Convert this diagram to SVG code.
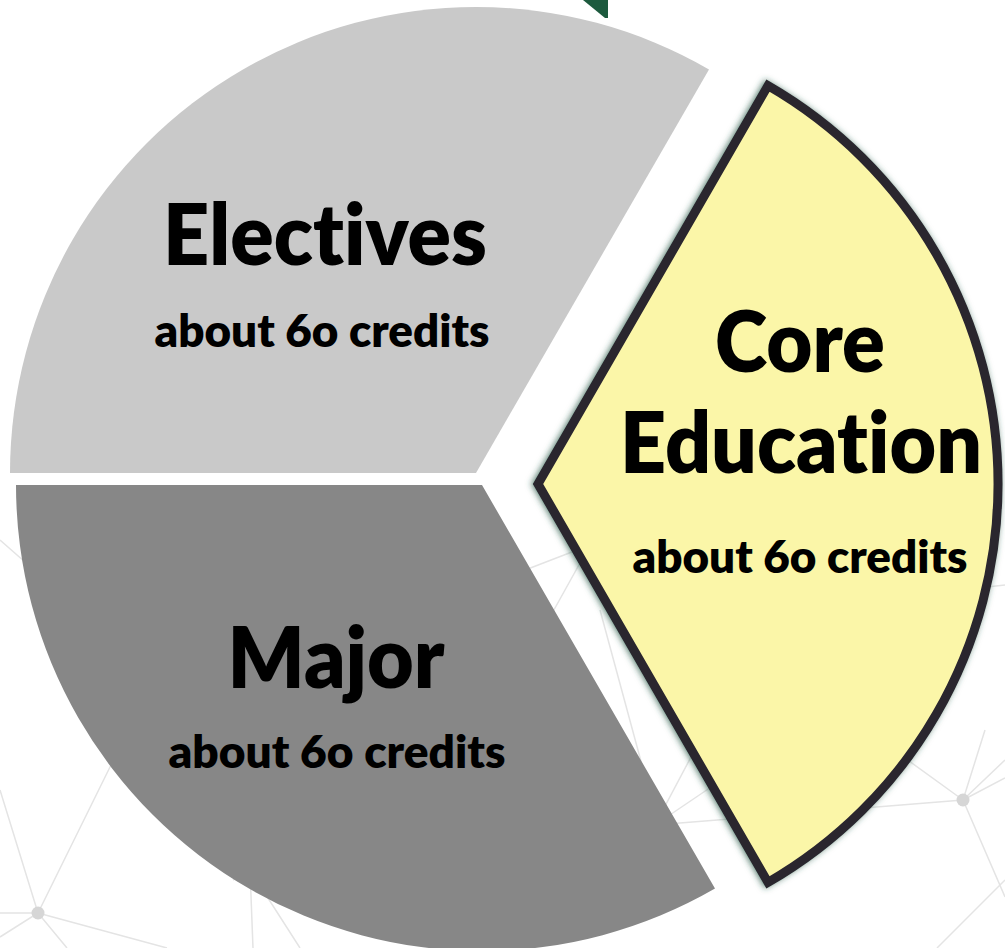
<svg xmlns="http://www.w3.org/2000/svg" width="1005" height="948" viewBox="0 0 1005 948">
<style>
.bg{stroke:#e4e4e4;stroke-width:1.5;fill:none}
.dot{fill:#d6d6d6}
.title{font-family:Lato,"Open Sans","Liberation Sans",sans-serif;font-weight:800;font-size:85px;fill:#000;text-anchor:middle;font-variant-ligatures:none}
.sub{font-family:Lato,"Open Sans","Liberation Sans",sans-serif;font-weight:800;font-size:45px;fill:#000;text-anchor:middle;font-variant-ligatures:none}
</style>
<defs>
<filter id="glow" x="-10%" y="-10%" width="120%" height="120%">
<feDropShadow dx="-1.5" dy="0" stdDeviation="3" flood-color="#2c5a47" flood-opacity="0.75"/>
</filter>
</defs>
<rect width="1005" height="948" fill="#ffffff"/>
<g id="background">
<path class="bg" d="M0,790 L38,913 L110,767 L170,660 M0,913 L38,913 L0,937 M38,913 L167,948 M38,913 L67,948 M250,870 L300,948 M250,870 L253,948 M250,870 L233,880 M0,540 L25,562"/>
<path class="bg" d="M963,800 L1005,760 M963,800 L1005,778 M963,800 L880,740 M963,800 L655,825 M963,800 L1005,897 M1005,880 L937,948 M963,800 L985,730 M960,590 L1005,585"/>
<path class="bg" d="M655,825 L700,740 M655,825 L720,781 M590,545 L520,572 M590,545 L550,617 M600,610 L642,765"/>
<circle class="dot" cx="38" cy="913" r="6.5"/>
<circle class="dot" cx="963" cy="800" r="6.5"/>
</g>
<polygon id="marker-top" points="583,0 608,0 608,18 605,18" fill="#1d5a3e"/>
<g id="electives">
<path d="M476,473 L10,473 A466,466 0 0 1 709,69.4 Z" fill="#c9c9c9"/>
<text class="title" x="325" y="265" textLength="324" lengthAdjust="spacingAndGlyphs">Electives</text>
<text class="sub" x="322" y="347" textLength="335" lengthAdjust="spacingAndGlyphs">about 6o credits</text>
</g>
<g id="major">
<path d="M482,485 L16,485 A466,466 0 0 0 715,888.6 Z" fill="#878787"/>
<text class="title" x="336" y="688" textLength="217" lengthAdjust="spacingAndGlyphs">Major</text>
<text class="sub" x="337" y="768" textLength="337" lengthAdjust="spacingAndGlyphs">about 6o credits</text>
</g>
<g id="core-education">
<path d="M538,484 L768,85.6 A460,460 0 0 1 768,882.4 Z" fill="#fbf6a8" stroke="#29252e" stroke-width="9" stroke-linejoin="miter" filter="url(#glow)"/>
<text class="title" x="800" y="372" textLength="170" lengthAdjust="spacingAndGlyphs">Core</text>
<text class="title" x="801" y="473" textLength="362" lengthAdjust="spacingAndGlyphs">Education</text>
<text class="sub" x="800" y="573" textLength="335" lengthAdjust="spacingAndGlyphs">about 6o credits</text>
</g>
<g id="connectors"></g>
</svg>
